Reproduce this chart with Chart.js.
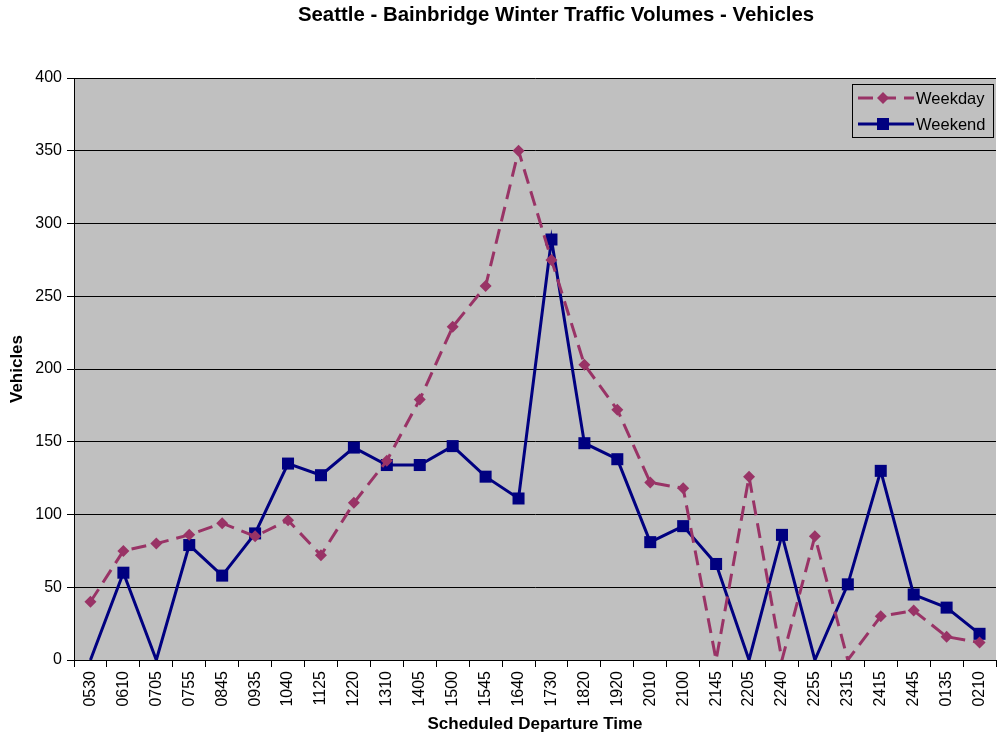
<!DOCTYPE html>
<html>
<head>
<meta charset="utf-8">
<script src="https://cdn.jsdelivr.net/npm/chart.js@4.4.1/dist/chart.umd.min.js"></script>
<style>
  html, body { margin: 0; padding: 0; background: #fff; }
  #wrap { width: 998px; height: 740px; }
</style>
</head>
<body>
<div id="wrap"><canvas id="trafficChart" width="998" height="740"></canvas></div>
<script>
const departures = ["0530", "0610", "0705", "0755", "0845", "0935", "1040", "1125", "1220", "1310",
  "1405", "1500", "1545", "1640", "1730", "1820", "1920", "2010", "2100", "2145",
  "2205", "2240", "2255", "2315", "2415", "2445", "0135", "0210"];
const weekday = [40, 75, 80, 86, 94, 85, 96, 72, 108, 137,
  179, 229, 257, 350, 275, 203, 172, 122, 118, 0,
  126, 0, 85, 0, 30, 34, 16, 12];
const weekend = [0, 60, 0, 79, 58, 87, 135, 127, 146, 134,
  134, 147, 126, 111, 289, 149, 138, 81, 92, 66,
  0, 86, 0, 52, 130, 45, 36, 18];
const yTicks = [0, 50, 100, 150, 200, 250, 300, 350, 400];

const FONT = "Arial, 'Liberation Sans', sans-serif";

// x axis is offset, so the end markers never overflow - don't let them shrink the plot
Chart.LineController.prototype.getMaxOverflow = function () { return 0; };

// title + legend box drawn on the canvas
const extras = {
  id: "extras",
  afterDraw(chart) {
    const ctx = chart.ctx;
    ctx.save();
    ctx.fillStyle = "#000";
    ctx.font = "bold 20.4px " + FONT;
    ctx.textAlign = "center";
    ctx.textBaseline = "middle";
    ctx.fillText("Seattle - Bainbridge Winter Traffic Volumes - Vehicles", 556, 15);

    // legend
    const lx = 852, ly = 84, lw = 141, lh = 53;
    ctx.fillStyle = "#c0c0c0";
    ctx.fillRect(lx, ly, lw, lh);
    ctx.strokeStyle = "#000";
    ctx.lineWidth = 1;
    ctx.strokeRect(lx + 0.5, ly + 0.5, lw, lh);
    chart.data.datasets.forEach((ds, i) => {
      const y = ly + 14 + i * 26;
      ctx.strokeStyle = ds.borderColor;
      ctx.lineWidth = 3;
      ctx.setLineDash(ds.borderDash || []);
      ctx.beginPath();
      ctx.moveTo(lx + 6, y);
      ctx.lineTo(lx + 62, y);
      ctx.stroke();
      ctx.setLineDash([]);
      ctx.fillStyle = ds.pointBackgroundColor;
      const cx = lx + 31;
      if (ds.pointStyle === "rectRot") {
        ctx.beginPath();
        ctx.moveTo(cx, y - 6);
        ctx.lineTo(cx + 6, y);
        ctx.lineTo(cx, y + 6);
        ctx.lineTo(cx - 6, y);
        ctx.closePath();
        ctx.fill();
      } else {
        ctx.fillRect(cx - 6, y - 6, 12, 12);
      }
      ctx.fillStyle = "#000";
      ctx.font = "16.5px " + FONT;
      ctx.textAlign = "left";
      ctx.fillText(ds.label, lx + 64, y + 1);
    });
    ctx.restore();
  }
};

const plotBg = {
  id: "plotBg",
  beforeDraw(chart) {
    const {ctx, chartArea: a} = chart;
    ctx.save();
    ctx.fillStyle = "#c0c0c0";
    ctx.fillRect(a.left, a.top, a.right - a.left, a.bottom - a.top);
    ctx.restore();
  }
};

new Chart(document.getElementById("trafficChart"), {
  type: "line",
  data: {
    labels: departures,
    datasets: [
      {
        label: "Weekday",
        data: weekday,
        borderColor: "#993366",
        backgroundColor: "#993366",
        pointBackgroundColor: "#993366",
        pointBorderColor: "#993366",
        borderWidth: 3,
        borderDash: [15, 8],
        pointStyle: "rectRot",
        pointRadius: (c) => (c.raw === 0 ? 0 : 6),
        pointBorderWidth: 0,
        tension: 0,
      },
      {
        label: "Weekend",
        data: weekend,
        borderColor: "#000080",
        backgroundColor: "#000080",
        pointBackgroundColor: "#000080",
        pointBorderColor: "#000080",
        borderWidth: 3,
        pointStyle: "rect",
        pointRadius: (c) => (c.raw === 0 ? 0 : 8.5),
        pointBorderWidth: 0,
        tension: 0,
      },
    ],
  },
  options: {
    responsive: false,
    animation: false,
    layout: { padding: { top: 78, right: 2, left: 0, bottom: 0 } },
    plugins: {
      legend: { display: false },
      title: { display: false },
      tooltip: { enabled: false },
    },
    scales: {
      x: {
        offset: true,
        grid: {
          offset: true,
          drawOnChartArea: false,
          drawTicks: true,
          tickLength: 7,
          color: "#000",
        },
        border: { color: "#000", width: 1 },
        ticks: {
          color: "#000",
          font: { family: FONT, size: 16 },
          maxRotation: 90,
          minRotation: 90,
          autoSkip: false,
          padding: 4,
        },
        title: {
          display: true,
          text: "Scheduled Departure Time",
          color: "#000",
          font: { family: FONT, size: 17, weight: "bold" },
          padding: { top: 0, bottom: 5 },
        },
        afterFit: (scale) => {
          scale.height = 80;
          scale.paddingLeft = 0;
          scale.paddingRight = 0;
        },
      },
      y: {
        min: 0,
        max: 400,
        afterBuildTicks: (scale) => {
          scale.ticks = yTicks.map((v) => ({ value: v }));
        },
        grid: {
          color: "#000",
          drawTicks: true,
          tickLength: 7,
        },
        border: { color: "#000", width: 1 },
        ticks: {
          color: "#000",
          font: { family: FONT, size: 16 },
          padding: 5,
        },
        title: {
          display: true,
          text: "Vehicles",
          color: "#000",
          font: { family: FONT, size: 17, weight: "bold" },
          padding: { top: 7, bottom: 0 },
        },
        afterFit: (scale) => { scale.width = 74; },
      },
    },
  },
  plugins: [plotBg, extras],
});
</script>
</body>
</html>
